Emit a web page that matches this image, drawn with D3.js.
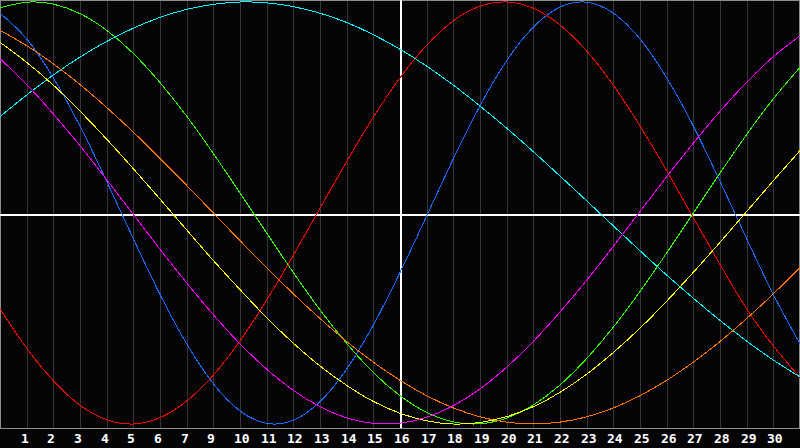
<!DOCTYPE html>
<html>
<head>
<meta charset="utf-8">
<script src="https://cdn.jsdelivr.net/npm/d3@7"></script>
<style>
  html, body { margin: 0; padding: 0; background: #050507; overflow: hidden; }
  svg { display: block; }
</style>
</head>
<body>
<script>
// days plotted (0..30), one point per grid column
var days = d3.range(0, 31);

// tick labels under grid lines 1..29 (the original skips "8")
var tickLabels = ["1", "2", "3", "4", "5", "6", "7", "9", "10", "11", "12", "13", "14", "15",
  "16", "17", "18", "19", "20", "21", "22", "23", "24", "25", "26", "27", "28", "29", "30"];

// values in percent
var red = [-45.4, -64.1, -79.5, -91.1, -98.0, -100.0, -97.0, -89.1, -76.8, -60.6, -41.3, -20.1, 2.3,
  24.4, 45.4, 64.1, 79.5, 91.1, 98.0, 100.0, 97.0, 89.1, 76.8, 60.6, 41.3, 20.1, -2.3, -24.4, -45.4,
  -63.0, -78.0];
var blue = [94.7, 82.5, 64.1, 41.2, 15.0, -12.2, -38.6, -62.0, -80.9, -93.8, -99.7, -98.2, -89.4,
  -74.0, -53.1, -28.2, -1.4, 25.7, 50.8, 72.2, 88.1, 97.6, 99.9, 94.7, 82.5, 64.1, 41.2, 15.0, -12.2,
  -38.6, -62.0];
var green = [97.2, 99.9, 99.0, 94.5, 86.6, 75.6, 61.8, 45.9, 28.2, 9.5, -9.5, -28.2, -45.9, -61.8,
  -75.6, -86.6, -94.5, -99.0, -99.9, -97.2, -91.0, -81.5, -69.0, -54.1, -37.2, -18.9, 0.0, 18.9, 37.2,
  54.1, 69.0];
var cyan = [45.7, 55.9, 65.4, 73.9, 81.3, 87.6, 92.7, 96.5, 98.9, 100.0, 99.6, 97.8, 94.7, 90.3, 84.5,
  77.6, 69.6, 60.6, 50.7, 40.2, 29.1, 17.5, 5.8, -6.1, -17.9, -29.4, -40.4, -50.9, -60.7, -69.7, -77.7];
var orange = [86.6, 79.3, 70.7, 60.9, 50.0, 38.3, 25.9, 13.1, 0.0, -13.1, -25.9, -38.3, -50.0, -60.9,
  -70.7, -79.3, -86.6, -92.4, -96.6, -99.1, -100.0, -99.1, -96.6, -92.4, -86.6, -79.3, -70.7, -60.9,
  -50.0, -38.3, -25.9];
var yellow = [80.9, 71.4, 60.6, 48.3, 35.0, 21.0, 6.6, -8.0, -22.5, -36.3, -49.6, -61.7, -72.5, -81.7,
  -89.3, -94.9, -98.5, -100.0, -99.3, -96.5, -91.8, -85.0, -76.4, -66.1, -54.6, -41.8, -28.1, -13.9,
  0.7, 15.3, 29.6];
var magenta = [73.1, 60.9, 46.9, 31.9, 15.8, -0.7, -17.2, -33.1, -48.2, -62.0, -74.0, -84.1, -91.8,
  -97.1, -99.7, -99.6, -96.8, -91.3, -83.4, -73.1, -60.9, -46.9, -31.9, -15.8, 0.7, 17.2, 33.1, 48.2,
  62.0, 74.1, 84.0];

var series = [
  { name: "red", values: red, color: "#ff0000" },
  { name: "blue", values: blue, color: "#1a6cff" },
  { name: "green", values: green, color: "#33ff00" },
  { name: "cyan", values: cyan, color: "#00ffff" },
  { name: "orange", values: orange, color: "#ff7700" },
  { name: "yellow", values: yellow, color: "#ffff00" },
  { name: "magenta", values: magenta, color: "#ff00ff" }
];

var width = 800,
  height = 448,
  plotBottom = 428;

var svg = d3.select("body").append("svg")
  .attr("width", width)
  .attr("height", height);

svg.append("rect")
  .attr("width", width)
  .attr("height", height)
  .attr("fill", "#050507");

var x = d3.scaleLinear().domain([0, 30]).range([0, width]);
var y = d3.scaleLinear().domain([-100, 100]).range([424, 2]);

// vertical day grid
var gridDays = d3.range(1, 30);
svg.append("g")
  .selectAll("line")
  .data(gridDays)
  .enter()
  .append("line")
  .attr("x1", function (d) { return Math.round(x(d)) + 0.5; })
  .attr("x2", function (d) { return Math.round(x(d)) + 0.5; })
  .attr("y1", 0)
  .attr("y2", plotBottom)
  .attr("stroke", "#363636")
  .attr("stroke-width", 1)
  .attr("shape-rendering", "crispEdges");

// plot border
svg.append("rect")
  .attr("x", 0.5)
  .attr("y", 0.5)
  .attr("width", width - 1)
  .attr("height", plotBottom)
  .attr("fill", "none")
  .attr("stroke", "#8c8c8c")
  .attr("shape-rendering", "crispEdges");

// center cross
svg.append("line")
  .attr("x1", 0).attr("x2", width)
  .attr("y1", y(0) + 1.5).attr("y2", y(0) + 1.5)
  .attr("stroke", "#ffffff")
  .attr("stroke-width", 2)
  .attr("shape-rendering", "crispEdges");

svg.append("line")
  .attr("x1", x(15) + 1).attr("x2", x(15) + 1)
  .attr("y1", 0).attr("y2", plotBottom)
  .attr("stroke", "#ffffff")
  .attr("stroke-width", 2)
  .attr("shape-rendering", "crispEdges");

var line = d3.line()
  .x(function (d, i) { return x(days[i]); })
  .y(function (d) { return y(d); })
  .curve(d3.curveNatural);

svg.append("g")
  .selectAll("path")
  .data(series)
  .enter()
  .append("path")
  .attr("d", function (d) { return line(d.values); })
  .attr("fill", "none")
  .attr("stroke", function (d) { return d.color; })
  .attr("stroke-width", 1)
  .attr("shape-rendering", "crispEdges");

// day labels
svg.append("g")
  .selectAll("text")
  .data(tickLabels)
  .enter()
  .append("text")
  .attr("x", function (d, i) { return Math.round(x(gridDays[i])) - 6; })
  .attr("y", 443)
  .attr("fill", "#ffffff")
  .style("font-family", "'DejaVu Sans Mono', monospace")
  .style("font-weight", "bold")
  .style("font-size", "13px")
  .text(function (d) { return d; });
</script>
</body>
</html>
